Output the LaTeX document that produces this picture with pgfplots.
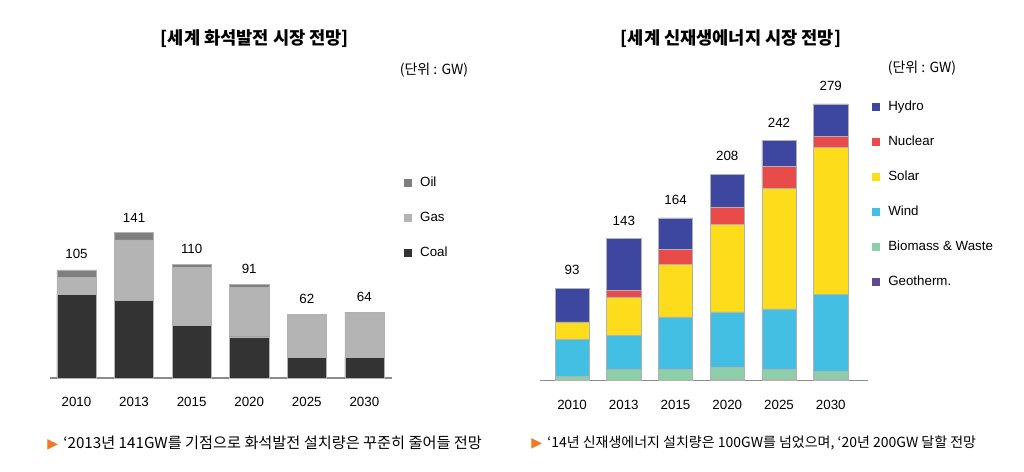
\documentclass[border=0pt]{standalone}
\usepackage{pgfplots}
\pgfplotsset{compat=1.18}
\usepackage{pgfplotstable}
\usepackage{fontspec}
\setmainfont{Liberation Sans}
\newfontfamily\kr{Noto Sans CJK KR}
\newfontfamily\dv{DejaVu Sans}

\definecolor{cOil}{HTML}{7F7F7F}
\definecolor{cGas}{HTML}{B4B4B4}
\definecolor{cCoal}{HTML}{333333}
\definecolor{cHydro}{HTML}{3D47A0}
\definecolor{cNuc}{HTML}{E94B4B}
\definecolor{cSolar}{HTML}{FDDC1B}
\definecolor{cWind}{HTML}{44BFE4}
\definecolor{cBio}{HTML}{8ECFAA}
\definecolor{cGeo}{HTML}{5E4B8B}
\definecolor{cArrow}{HTML}{F07826}

\pgfplotstableread{
x coal gas oil total
0 81 17 7 105
1 75 59 7 141
2 51 56 3 110
3 40 48 3 91
4 20 41 1 62
5 20 43 1 64
}\fossil

\pgfplotstableread{
x geo bio wind solar nuc hydro total
0 0 4 37 18 0 34 93
1 0 11 34 39 7 52 143
2 0 11 53 53 15 32 164
3 1 12 56 88 18 33 208
4 1 10 61 122 22 26 242
5 1 8 78 148 11 33 279
}\renewtab

\pgfplotsset{
  mybars/.style={
    scale only axis, anchor=south west, clip=false,
    ybar stacked, ymin=0,
    axis x line=bottom, axis y line=none,
    x axis line style={draw=black!45, line width=1pt, -},
    xtick={0,...,5},
    xticklabels={2010,2013,2015,2020,2025,2030},
    major tick length=0pt,
    xticklabel style={font=\fontsize{10}{12}\selectfont, yshift=-11pt},
    every axis plot/.append style={draw=black!30, line width=0.4pt},
    legend image code/.code={\fill[##1, draw=none] (0pt,-3pt) rectangle (6pt,3pt);},
    reverse legend,
    legend cell align=left,
    legend style={draw=none, fill=none, anchor=north west,
      font=\fontsize{10}{12}\selectfont, row sep=14.75pt,
      nodes={inner sep=1pt, text height=7.5pt, text depth=2pt},
      /tikz/every odd column/.style={column sep=5pt}},
  },
  labelaxis/.style={
    scale only axis, anchor=south west, clip=false, hide axis, ymin=0,
    /pgf/number format/assume math mode=true,
  },
  totals/.style={only marks, mark=none, nodes near coords, point meta=explicit,
    every node near coord/.append style={font=\fontsize{10}{12}\selectfont,
      text=black, anchor=south, yshift=#1}},
}

\begin{document}
\begin{tikzpicture}
\useasboundingbox (0,0) rectangle (768pt,353.25pt);

% ---- left chart
\begin{axis}[mybars,
  at={(37.5pt,69.75pt)}, width=256.5pt, height=115.9pt,
  xmin=-0.46, xmax=5.48, ymax=150, bar width=0.68,
  legend style={at={(1.023,1.33)}},
]
\addplot[fill=cCoal] table[x=x,y=coal] {\fossil};
\addplot[fill=cGas] table[x=x,y=gas] {\fossil};
\addplot[fill=cOil] table[x=x,y=oil] {\fossil};
\legend{Coal,Gas,Oil}
\end{axis}
\begin{axis}[labelaxis,
  at={(37.5pt,69.75pt)}, width=256.5pt, height=115.9pt,
  xmin=-0.46, xmax=5.48, ymax=150]
\addplot[totals=4.5pt] table[x=x,y=total,meta=total] {\fossil};
\end{axis}

% ---- right chart
\begin{axis}[mybars,
  at={(405pt,68pt)}, width=246pt, height=223pt,
  xmin=-0.62, xmax=5.72, ymax=300, bar width=0.66,
  legend style={at={(1.0,0.956)}},
]
\addplot[fill=cGeo] table[x=x,y=geo] {\renewtab};
\addplot[fill=cBio] table[x=x,y=bio] {\renewtab};
\addplot[fill=cWind] table[x=x,y=wind] {\renewtab};
\addplot[fill=cSolar] table[x=x,y=solar] {\renewtab};
\addplot[fill=cNuc] table[x=x,y=nuc] {\renewtab};
\addplot[fill=cHydro] table[x=x,y=hydro] {\renewtab};
\legend{Geotherm.,Biomass \& Waste,Wind,Solar,Nuclear,Hydro}
\end{axis}
\begin{axis}[labelaxis,
  at={(405pt,68pt)}, width=246pt, height=223pt,
  xmin=-0.62, xmax=5.72, ymax=300]
\addplot[totals=6.5pt] table[x=x,y=total,meta=total] {\renewtab};
\end{axis}

% ---- titles and notes
\node[font=\kr\bfseries\fontsize{13.2}{15}\selectfont] at (191.25pt,324pt) {[세계 화석발전 시장 전망]};
\node[font=\kr\bfseries\fontsize{13.2}{15}\selectfont] at (548.25pt,324pt) {[세계 신재생에너지 시장 전망]};
\node[font=\kr\fontsize{10.5}{12}\selectfont] at (325.5pt,300.75pt) {(단위 : GW)};
\node[font=\kr\fontsize{10.5}{12}\selectfont] at (691.5pt,302.25pt) {(단위 : GW)};
\node[anchor=west, inner sep=0pt, font=\kr\fontsize{11.4}{13}\selectfont] at (35.25pt,21pt)
  {{\dv\color{cArrow}\fontsize{10.5}{11}\selectfont ▶}\hspace{4pt}‘2013년 141GW를 기점으로 화석발전 설치량은 꾸준히 줄어들 전망};
\node[anchor=west, inner sep=0pt, font=\kr\fontsize{10.5}{12}\selectfont] at (398.25pt,21pt)
  {{\dv\color{cArrow}\fontsize{10.5}{11}\selectfont ▶}\hspace{4pt}‘14년 신재생에너지 설치량은 100GW를 넘었으며, ‘20년 200GW 달할 전망};
\end{tikzpicture}
\end{document}
